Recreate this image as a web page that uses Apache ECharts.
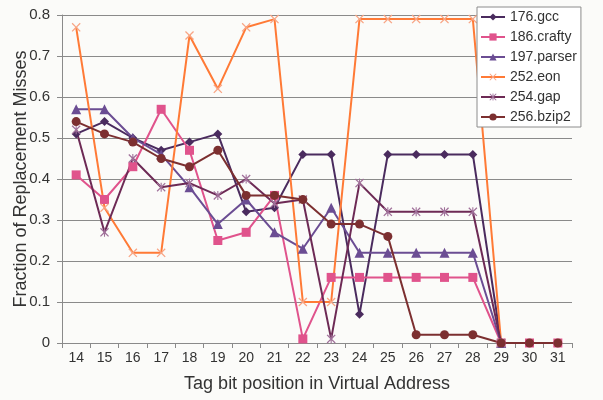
<!DOCTYPE html>
<html>
<head>
<meta charset="utf-8">
<script src="https://cdn.jsdelivr.net/npm/echarts@6/dist/echarts.min.js"></script>
<style>html,body{margin:0;padding:0;background:#fbfbf9;}#c{width:603px;height:400px;}</style>
</head>
<body>
<div id="c"></div>
<script>
var categories = ['14','15','16','17','18','19','20','21','22','23','24','25','26','27','28','29','30','31'];
var gcc    = [0.51,0.54,0.50,0.47,0.49,0.51,0.32,0.33,0.46,0.46,0.07,0.46,0.46,0.46,0.46,0,null,null];
var crafty = [0.41,0.35,0.43,0.57,0.47,0.25,0.27,0.36,0.01,0.16,0.16,0.16,0.16,0.16,0.16,0,0,0];
var parser = [0.57,0.57,0.50,0.46,0.38,0.29,0.35,0.27,0.23,0.33,0.22,0.22,0.22,0.22,0.22,0,null,null];
var eon    = [0.77,0.33,0.22,0.22,0.75,0.62,0.77,0.79,0.10,0.10,0.79,0.79,0.79,0.79,0.79,0,null,null];
var gap    = [0.52,0.27,0.45,0.38,0.39,0.36,0.40,0.34,0.35,0.01,0.39,0.32,0.32,0.32,0.32,0,null,null];
var bzip2  = [0.54,0.51,0.49,0.45,0.43,0.47,0.36,0.36,0.35,0.29,0.29,0.26,0.02,0.02,0.02,0,0,0];

var xSym = 'path://M0,1L1,0L5,4L9,0L10,1L6,5L10,9L9,10L5,6L1,10L0,9L4,5Z';
var starSym = 'path://M0,1L1,0L5,4L9,0L10,1L6,5L10,9L9,10L5,6L1,10L0,9L4,5Z M4.4,0L5.6,0L5.6,10L4.4,10Z';
var font = 'Liberation Sans, Arial, sans-serif';

function mk(name, data, color, symbol, size, symColor) {
  return {
    name: name, type: 'line', data: data,
    symbol: symbol, symbolSize: size,
    connectNulls: false,
    lineStyle: {color: color, width: 2},
    itemStyle: {color: symColor || color, borderWidth: 0},
    emphasis: {disabled: true},
    animation: false
  };
}

var chart = echarts.init(document.getElementById('c'), null, {renderer: 'canvas'});
chart.setOption({
  backgroundColor: '#fbfbf9',
  animation: false,
  textStyle: {fontFamily: font},
  grid: {left: 62, right: 31, top: 15, bottom: 57, containLabel: false, outerBoundsMode: 'none'},
  legend: {
    orient: 'vertical', left: 477, top: 7,
    backgroundColor: '#ffffff', borderColor: '#8c8c8c', borderWidth: 1,
    padding: [3, 4, 3, 3], itemGap: 6, itemWidth: 24, itemHeight: 9,
    textStyle: {fontFamily: font, fontSize: 14, color: '#333'},
    data: ['176.gcc','186.crafty','197.parser','252.eon','254.gap','256.bzip2']
  },
  xAxis: {
    type: 'category', data: categories, boundaryGap: true,
    name: 'Tag bit position in Virtual Address', nameLocation: 'middle', nameGap: 32,
    nameTextStyle: {fontFamily: font, fontSize: 18, color: '#333'},
    axisLine: {lineStyle: {color: '#8a8a8a', width: 1}},
    axisTick: {show: true, length: 5, lineStyle: {color: '#8a8a8a'}},
    axisLabel: {fontFamily: font, fontSize: 14, color: '#333', margin: 8}
  },
  yAxis: {
    type: 'value', min: 0, max: 0.8, interval: 0.1,
    name: 'Fraction of Replacement Misses', nameLocation: 'middle', nameGap: 32,
    nameMoveOverlap: false,
    nameTextStyle: {fontFamily: font, fontSize: 18, color: '#333'},
    axisLine: {show: true, lineStyle: {color: '#8a8a8a', width: 1}},
    axisTick: {show: true, length: 5, lineStyle: {color: '#8a8a8a'}},
    axisLabel: {fontFamily: font, fontSize: 15, color: '#333', margin: 12},
    splitLine: {show: true, lineStyle: {color: '#8a8a8a', width: 1}}
  },
  series: [
    mk('176.gcc', gcc, '#4a2b5e', 'diamond', 9),
    mk('186.crafty', crafty, '#e0538c', 'rect', 9),
    mk('197.parser', parser, '#6b4d93', 'triangle', 10),
    mk('252.eon', eon, '#ff7a36', xSym, 9, '#f8a585'),
    mk('254.gap', gap, '#6d2a55', starSym, 9, '#a0709a'),
    mk('256.bzip2', bzip2, '#7c2f30', 'circle', 9)
  ]
});
</script>
</body>
</html>
